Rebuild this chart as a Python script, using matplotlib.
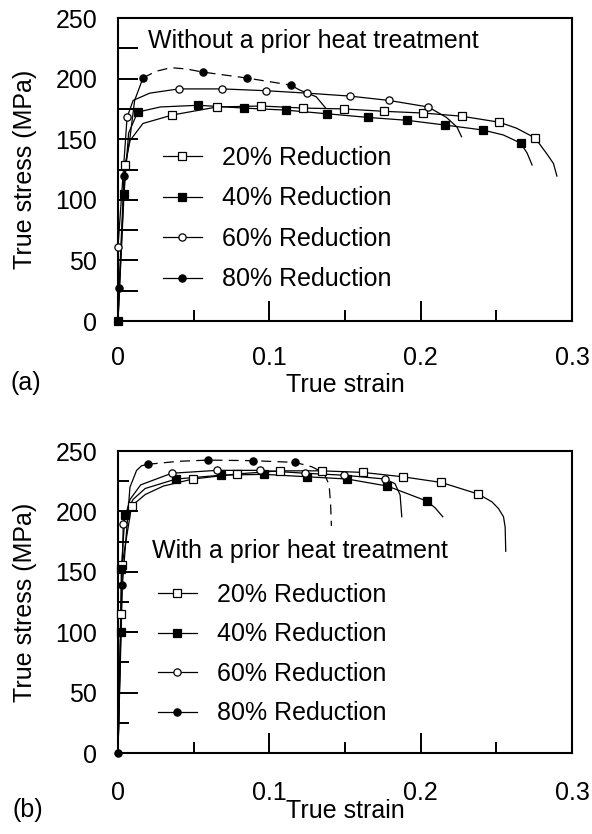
import matplotlib
matplotlib.use("Agg")
import matplotlib.pyplot as plt
from matplotlib.lines import Line2D
from matplotlib.ticker import MultipleLocator

plt.rcParams['font.family'] = ['Liberation Sans', 'DejaVu Sans']

# ---------------- (a) without prior heat treatment ----------------
A20_X = [0, 0.0046, 0.008, 0.0165, 0.036, 0.0655, 0.0945, 0.1223, 0.149, 0.176,
         0.2016, 0.227, 0.252, 0.2635, 0.2756, 0.2833, 0.2877, 0.290]
A20_Y = [0, 128.7, 149, 163, 170, 176.6, 177.4, 175.7, 175, 173,
         171.6, 169, 164, 159, 151, 138, 130, 119.6]
A20_MX = [0.0046, 0.036, 0.0655, 0.0945, 0.1223, 0.149, 0.176, 0.2016, 0.227, 0.252, 0.2756]
A20_MY = [128.7, 170, 176.6, 177.4, 175.7, 175, 173, 171.6, 169, 164, 151]

A40_X = [0, 0.004, 0.007, 0.013, 0.028, 0.053, 0.083, 0.111, 0.138, 0.165,
         0.191, 0.216, 0.241, 0.2546, 0.266, 0.2703, 0.2736]
A40_Y = [0, 105, 155, 172.4, 176.6, 178, 175.7, 174, 171, 168,
         165.6, 161.7, 157.6, 153.5, 146.8, 138.6, 128.7]
A40_MX = [0, 0.004, 0.013, 0.053, 0.083, 0.111, 0.138, 0.165, 0.191, 0.216, 0.241, 0.266]
A40_MY = [0, 105, 172.4, 178, 175.7, 174, 171, 168, 165.6, 161.7, 157.6, 146.8]

A60_X = [0, 0.006, 0.010, 0.021, 0.040, 0.069, 0.098, 0.125, 0.153, 0.179,
         0.205, 0.217, 0.224, 0.227]
A60_Y = [61, 168, 182, 188, 191.5, 191.5, 190, 188, 185.6, 182,
         176.6, 168, 160, 152]
A60_MX = [0, 0.006, 0.040, 0.069, 0.098, 0.125, 0.153, 0.179, 0.205]
A60_MY = [61, 168, 191.5, 191.5, 190, 188, 185.6, 182, 176.6]

A80_HEAD_X = [0, 0.0007, 0.004, 0.008, 0.011, 0.0165]
A80_HEAD_Y = [0, 27, 120, 152, 182, 200.5]
A80_DASH_X = [0.0165, 0.025, 0.035, 0.045, 0.056, 0.085, 0.114]
A80_DASH_Y = [200.5, 206, 209, 208, 205.4, 200.5, 194.7]
A80_TAIL_X = [0.114, 0.120, 0.131, 0.137]
A80_TAIL_Y = [194.7, 190.6, 185, 176]
A80_MX = [0, 0.0007, 0.004, 0.0165, 0.056, 0.085, 0.114]
A80_MY = [0, 27, 120, 200.5, 205.4, 200.5, 194.7]

# ---------------- (b) with prior heat treatment ----------------
B20_X = [0, 0.0018, 0.0027, 0.009, 0.018, 0.030, 0.0494, 0.0784, 0.107, 0.1346,
         0.1617, 0.188, 0.2135, 0.238, 0.247, 0.2514, 0.2547, 0.2558, 0.2562]
B20_Y = [0, 115, 155.6, 204.5, 214, 221, 226.8, 231, 233.6, 233.6,
         232.3, 228.7, 224, 214.4, 208, 202.4, 195.6, 187, 167]
B20_MX = [0.0018, 0.0027, 0.009, 0.0494, 0.0784, 0.107, 0.1346, 0.1617, 0.188, 0.2135, 0.238]
B20_MY = [115, 155.6, 204.5, 226.8, 231, 233.6, 233.6, 232.3, 228.7, 224, 214.4]

B40_X = [0, 0.0018, 0.0022, 0.0046, 0.010, 0.018, 0.0383, 0.068, 0.0965, 0.1248,
         0.1516, 0.178, 0.204, 0.2095, 0.2146]
B40_Y = [0, 100, 152, 197, 210, 219, 226.8, 230, 230.7, 228.7,
         226.8, 221, 208.6, 203, 195.6]
B40_MX = [0.0018, 0.0022, 0.0046, 0.0383, 0.068, 0.0965, 0.1248, 0.1516, 0.178, 0.204]
B40_MY = [100, 152, 197, 226.8, 230, 230.7, 228.7, 226.8, 221, 208.6]

B60_X = [0, 0.0035, 0.008, 0.015, 0.0355, 0.0655, 0.094, 0.1236, 0.149, 0.1765,
         0.183, 0.1864, 0.1875]
B60_Y = [0, 190, 210, 222, 231.6, 234, 234, 231.6, 230, 226.8,
         223, 213.6, 195.6]
B60_MX = [0.0035, 0.0355, 0.0655, 0.094, 0.1236, 0.149, 0.1765]
B60_MY = [190, 231.6, 234, 234, 231.6, 230, 226.8]

B80_HEAD_X = [0, 0.0029, 0.0079, 0.0123, 0.0156, 0.0196]
B80_HEAD_Y = [0, 139, 220, 234, 237.8, 239]
B80_DASH_X = [0.0196, 0.040, 0.0597, 0.089, 0.117, 0.128, 0.136, 0.1395, 0.1405, 0.141]
B80_DASH_Y = [239, 241.5, 242.5, 242, 240.6, 237, 232, 222, 205, 188]
B80_MX = [0, 0.0029, 0.0196, 0.0597, 0.089, 0.117]
B80_MY = [0, 139, 239, 242.5, 242, 240.6]

LABELS = ["20% Reduction", "40% Reduction", "60% Reduction", "80% Reduction"]
STYLES = [("s", "white"), ("s", "black"), ("o", "white"), ("o", "black")]

FS = 18
LW = 0.9
MS = 5.2


def mk(ax, x, y, marker, fc):
    ax.plot(x, y, ls="none", marker=marker, ms=MS, mfc=fc, mec="black",
            mew=0.9, zorder=4, clip_on=False)


def setup(ax, xpad, ylen_minor, title, tx, ty, leg_xy, lspace, xl_y):
    ax.set_xlim(0, 0.3)
    ax.set_ylim(0, 250)
    ax.set_xticks([0, 0.1, 0.2, 0.3], ["0", "0.1", "0.2", "0.3"])
    ax.xaxis.set_minor_locator(MultipleLocator(0.05))
    ax.yaxis.set_major_locator(MultipleLocator(50))
    ax.yaxis.set_minor_locator(MultipleLocator(25))
    ax.tick_params(which="both", direction="in", width=1.4, labelsize=FS,
                   top=False, right=False)
    ax.tick_params(axis="x", which="major", length=14.4, pad=xpad)
    ax.tick_params(axis="x", which="minor", length=8)
    ax.tick_params(axis="y", which="major", length=14.4, pad=15)
    ax.tick_params(axis="y", which="minor", length=ylen_minor)
    for s in ax.spines.values():
        s.set_linewidth(1.5)
    ax.set_xlabel("True strain", fontsize=FS)
    ax.set_ylabel("True stress (MPa)", fontsize=FS)
    ax.xaxis.set_label_coords(0.5, xl_y)
    ax.yaxis.set_label_coords(-0.178, 0.5)
    ax.text(tx, ty, title, transform=ax.transAxes, fontsize=FS, va="baseline")
    handles = [Line2D([], [], color="black", lw=LW, marker=m, ms=MS, mfc=fc,
                      mec="black", mew=0.9) for m, fc in STYLES]
    ax.legend(handles, LABELS, loc="upper left", bbox_to_anchor=leg_xy,
              frameon=False, fontsize=FS, handlelength=1.56, handletextpad=0.8,
              labelspacing=lspace, borderpad=0, borderaxespad=0)


fig = plt.figure(figsize=(5.92, 8.34), dpi=100)
ax1 = fig.add_axes([0.1993, 0.6151, 0.767, 0.3633])
ax2 = fig.add_axes([0.1993, 0.0971, 0.767, 0.3621])

# panel (a)
for (cx, cy, mx, my), (m, fc) in zip(
        [(A20_X, A20_Y, A20_MX, A20_MY), (A40_X, A40_Y, A40_MX, A40_MY),
         (A60_X, A60_Y, A60_MX, A60_MY)], STYLES[:3]):
    ax1.plot(cx, cy, color="black", lw=LW)
    mk(ax1, mx, my, m, fc)
ax1.plot(A80_HEAD_X, A80_HEAD_Y, color="black", lw=LW)
ax1.plot(A80_DASH_X, A80_DASH_Y, color="black", lw=LW, dashes=(8, 5))
ax1.plot(A80_TAIL_X, A80_TAIL_Y, color="black", lw=LW)
mk(ax1, A80_MX, A80_MY, "o", "black")
setup(ax1, 18, 14.4, "Without a prior heat treatment", 0.066, 0.901,
      (0.099, 0.578), 0.66, -0.172)

# panel (b)
for (cx, cy, mx, my), (m, fc) in zip(
        [(B20_X, B20_Y, B20_MX, B20_MY), (B40_X, B40_Y, B40_MX, B40_MY),
         (B60_X, B60_Y, B60_MX, B60_MY)], STYLES[:3]):
    ax2.plot(cx, cy, color="black", lw=LW)
    mk(ax2, mx, my, m, fc)
ax2.plot(B80_HEAD_X, B80_HEAD_Y, color="black", lw=LW)
ax2.plot(B80_DASH_X, B80_DASH_Y, color="black", lw=LW, dashes=(8, 5))
mk(ax2, B80_MX, B80_MY, "o", "black")
setup(ax2, 20, 8, "With a prior heat treatment", 0.075, 0.646,
      (0.088, 0.563), 0.62, -0.153)

fig.text(10 / 592, 1 - 383 / 834, "(a)", fontsize=FS, va="center")
fig.text(12 / 592, 1 - 810 / 834, "(b)", fontsize=FS, va="center")

fig.savefig("out.png", dpi=100)
